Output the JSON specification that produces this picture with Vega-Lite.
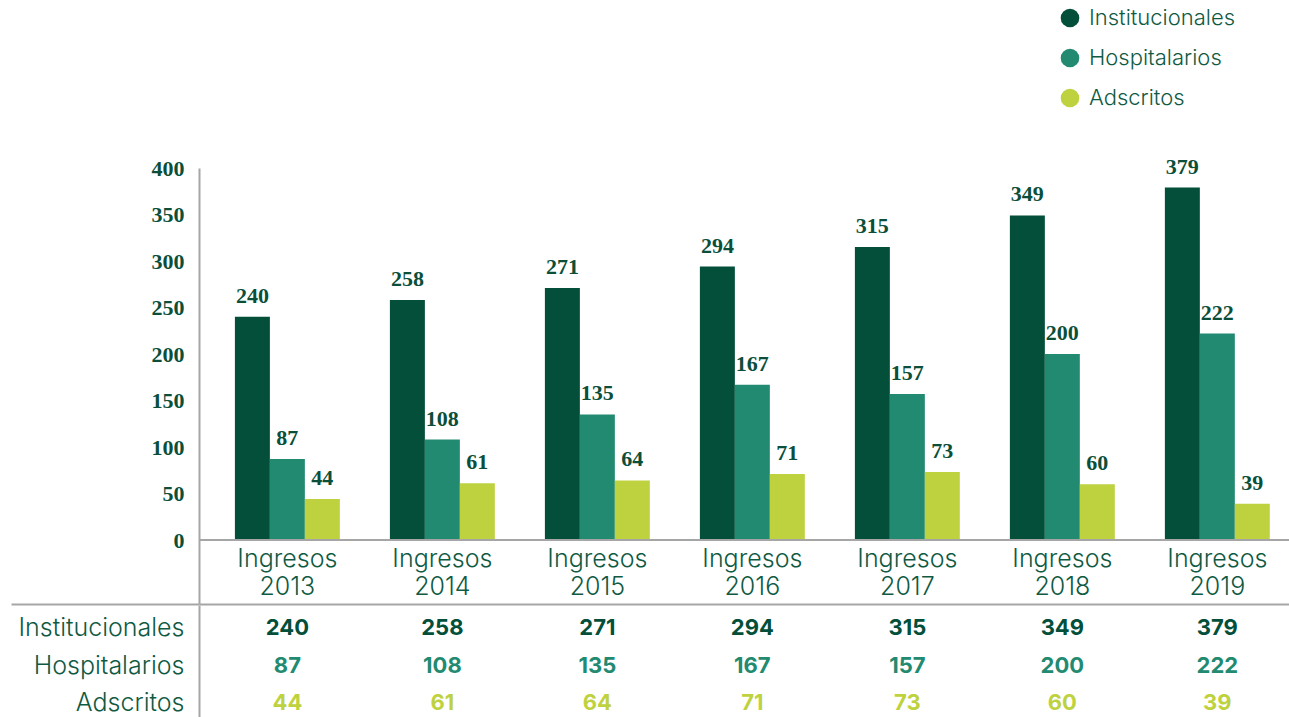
{
  "$schema": "https://vega.github.io/schema/vega-lite/v6.json",
  "padding": {"left": 10, "top": 7, "right": 0, "bottom": 0},
  "background": "white",
  "config": {"view": {"stroke": null}, "concat": {"spacing": 0}},
  "data": {"values": [
    {"periodo": "Ingresos 2013", "serie": "Institucionales", "valor": 240},
    {"periodo": "Ingresos 2013", "serie": "Hospitalarios", "valor": 87},
    {"periodo": "Ingresos 2013", "serie": "Adscritos", "valor": 44},
    {"periodo": "Ingresos 2014", "serie": "Institucionales", "valor": 258},
    {"periodo": "Ingresos 2014", "serie": "Hospitalarios", "valor": 108},
    {"periodo": "Ingresos 2014", "serie": "Adscritos", "valor": 61},
    {"periodo": "Ingresos 2015", "serie": "Institucionales", "valor": 271},
    {"periodo": "Ingresos 2015", "serie": "Hospitalarios", "valor": 135},
    {"periodo": "Ingresos 2015", "serie": "Adscritos", "valor": 64},
    {"periodo": "Ingresos 2016", "serie": "Institucionales", "valor": 294},
    {"periodo": "Ingresos 2016", "serie": "Hospitalarios", "valor": 167},
    {"periodo": "Ingresos 2016", "serie": "Adscritos", "valor": 71},
    {"periodo": "Ingresos 2017", "serie": "Institucionales", "valor": 315},
    {"periodo": "Ingresos 2017", "serie": "Hospitalarios", "valor": 157},
    {"periodo": "Ingresos 2017", "serie": "Adscritos", "valor": 73},
    {"periodo": "Ingresos 2018", "serie": "Institucionales", "valor": 349},
    {"periodo": "Ingresos 2018", "serie": "Hospitalarios", "valor": 200},
    {"periodo": "Ingresos 2018", "serie": "Adscritos", "valor": 60},
    {"periodo": "Ingresos 2019", "serie": "Institucionales", "valor": 379},
    {"periodo": "Ingresos 2019", "serie": "Hospitalarios", "valor": 222},
    {"periodo": "Ingresos 2019", "serie": "Adscritos", "valor": 39}
  ]},
  "resolve": {"scale": {"color": "independent"}, "legend": {"color": "independent"}},
  "vconcat": [
    {
      "width": 1091,
      "height": 436,
      "layer": [
        {
          "mark": {"type": "bar"},
          "encoding": {
            "x": {
              "field": "periodo", "type": "nominal", "sort": null,
              "scale": {"type": "band", "paddingInner": 0.323, "paddingOuter": 0.181, "align": 0.64},
              "axis": {
                "title": null, "orient": "bottom", "domainColor": "#a6a6a6", "domainWidth": 2,
                "ticks": false, "labelAngle": 0, "minExtent": 0,
                "labelExpr": "split(datum.label, ' ')",
                "labelPadding": -58, "labelBaseline": "top", "labelLineHeight": 28,
                "labelFont": "Inter", "labelFontWeight": 300, "labelFontSize": 25, "labelColor": "#0f5a43"
              }
            },
            "xOffset": {
              "field": "serie", "type": "nominal",
              "sort": ["Institucionales", "Hospitalarios", "Adscritos"],
              "scale": {"paddingInner": 0, "paddingOuter": 0}
            },
            "y": {
              "field": "valor", "type": "quantitative",
              "scale": {"domain": [-68.8, 400], "nice": false, "zero": false},
              "axis": {
                "title": null, "grid": false,
                "values": [-68.8, 0, 50, 100, 150, 200, 250, 300, 350, 400],
                "domainColor": "#a6a6a6", "domainWidth": 2,
                "tickSize": 188, "tickColor": "#a6a6a6", "tickWidth": 2,
                "tickOpacity": {"condition": {"test": "datum.value < 0", "value": 1}, "value": 0},
                "labelExpr": "datum.value < 0 ? '' : datum.label",
                "labelFontSize": {"condition": {"test": "datum.value < 0", "value": 0}, "value": 22},
                "labelPadding": -173, "labelFlush": false, "labelOverlap": false,
                "labelFont": "Liberation Serif", "labelFontWeight": "bold",
                "labelColor": "#0b4f3a", "labelBaseline": "middle"
              }
            },
            "color": {
              "field": "serie", "type": "nominal",
              "sort": ["Institucionales", "Hospitalarios", "Adscritos"],
              "scale": {"domain": ["Institucionales", "Hospitalarios", "Adscritos"], "range": ["#034f3a", "#228a70", "#bed23f"]},
              "legend": {
                "title": null, "orient": "none", "legendX": 860, "legendY": -161,
                "symbolType": "circle", "symbolSize": 346, "symbolStrokeWidth": 0, "symbolOpacity": 1,
                "labelFont": "Inter", "labelFontWeight": 300, "labelFontSize": 22, "labelColor": "#0f5a43",
                "labelOffset": 8, "rowPadding": 18, "padding": 0
              }
            }
          }
        },
        {
          "mark": {"type": "text", "baseline": "alphabetic", "dy": -14, "font": "Liberation Serif", "fontWeight": "bold", "fontSize": 22, "color": "#0b4f3a"},
          "encoding": {
            "x": {"field": "periodo", "type": "nominal", "sort": null},
            "xOffset": {"field": "serie", "type": "nominal", "sort": ["Institucionales", "Hospitalarios", "Adscritos"]},
            "y": {"field": "valor", "type": "quantitative"},
            "text": {"field": "valor", "type": "quantitative"}
          }
        },
        {
          "data": {"values": [{"base": 0}]},
          "mark": {"type": "rule", "color": "#a6a6a6", "strokeWidth": 2},
          "encoding": {"y": {"field": "base", "type": "quantitative"}}
        }
      ]
    },
    {
      "width": 1091,
      "height": 113,
      "mark": {"type": "text", "baseline": "middle", "dy": 4, "font": "Inter", "fontWeight": 700, "fontSize": 22},
      "encoding": {
        "x": {
          "field": "periodo", "type": "nominal", "sort": null,
          "scale": {"type": "band", "paddingInner": 0.323, "paddingOuter": 0.181, "align": 0.64},
          "axis": null
        },
        "y": {
          "field": "serie", "type": "nominal",
          "sort": ["Institucionales", "Hospitalarios", "Adscritos"],
          "scale": {"type": "band", "paddingInner": 0, "paddingOuter": 0},
          "axis": {
            "title": null, "domainColor": "#a6a6a6", "domainWidth": 2, "ticks": false,
            "labelPadding": 15, "labelOffset": 4,
            "labelFont": "Inter", "labelFontWeight": 300, "labelFontSize": 25, "labelColor": "#0f5a43"
          }
        },
        "text": {"field": "valor", "type": "quantitative"},
        "color": {
          "field": "serie", "type": "nominal",
          "scale": {"domain": ["Institucionales", "Hospitalarios", "Adscritos"], "range": ["#034f3a", "#228a70", "#bed23f"]},
          "legend": null
        }
      }
    }
  ]
}
